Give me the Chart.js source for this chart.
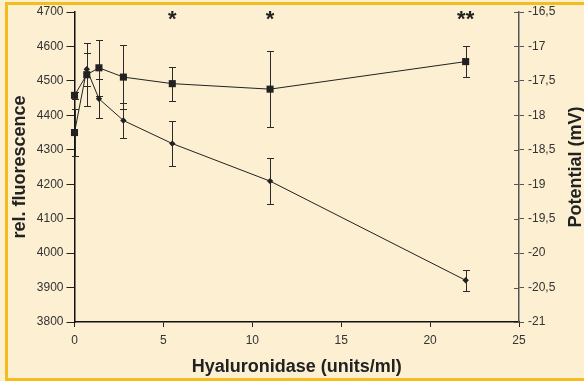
<!DOCTYPE html>
<html>
<head>
<meta charset="utf-8">
<script src="https://cdn.jsdelivr.net/npm/chart.js@4"></script>
<style>
  html, body { margin: 0; padding: 0; width: 584px; height: 381px; overflow: hidden; background: #fcefd2; }
  #frame { position: absolute; left: 5px; top: 2px; width: 700px; height: 373px; border: 3px solid #f4bc1c; }
  #wrap { position: absolute; left: 0; top: 0; width: 584px; height: 381px; }
</style>
</head>
<body>
<div id="frame"></div>
<div id="wrap"><canvas id="chart"></canvas></div>
<script>
// dados
const concentrations = [0, 0.69, 1.375, 2.75, 5.5, 11, 22]; // units/ml
const fluorescence = [4350, 4534, 4448, 4385, 4318, 4209, 3921];
const fluorescenceErr = [68, 48, 57, 52, 66, 66, 30];
const potential = [-17.71, -17.41, -17.31, -17.445, -17.54, -17.62, -17.22]; // mV
const potentialErr = [0.05, 0.46, 0.41, 0.47, 0.245, 0.55, 0.23];
const significance = ["", "", "", "", "*", "*", "**"];
const xTicks = [0, 5, 10, 15, 20, 25];

const FONT = "'Liberation Sans', Arial, sans-serif";
const INK = "#222";

// barras de erro desenhadas com as escalas do Chart.js
const errorBars = {
  id: "errorBars",
  beforeDatasetsDraw(chart) {
    const { ctx } = chart;
    const xs = chart.scales.x;
    ctx.save();
    ctx.strokeStyle = "#2a2a2a";
    ctx.lineWidth = 1;
    chart.data.datasets.forEach((ds) => {
      const ys = chart.scales[ds.yAxisID];
      ds.errors.forEach((e, i) => {
        if (!e) return;
        const p = ds.data[i];
        const px = Math.round(xs.getPixelForValue(p.x)) + 0.5;
        const top = Math.round(ys.getPixelForValue(p.y + e)) + 0.5;
        const bot = Math.round(ys.getPixelForValue(p.y - e)) + 0.5;
        ctx.beginPath();
        ctx.moveTo(px, top);
        ctx.lineTo(px, bot);
        ctx.moveTo(px - 3.5, top);
        ctx.lineTo(px + 3.5, top);
        ctx.moveTo(px - 3.5, bot);
        ctx.lineTo(px + 3.5, bot);
        ctx.stroke();
      });
    });
    ctx.restore();
  },
};

// asteriscos, ticks internos do eixo direito e título do eixo direito
const extras = {
  id: "extras",
  afterDraw(chart) {
    const { ctx, chartArea } = chart;
    const xs = chart.scales.x;
    const y2 = chart.scales.y2;
    ctx.save();

    ctx.fillStyle = INK;
    ctx.font = "bold 22px " + FONT;
    ctx.textAlign = "center";
    ctx.textBaseline = "top";
    significance.forEach((s, i) => {
      if (!s) return;
      ctx.fillText(s, xs.getPixelForValue(concentrations[i]), chartArea.top - 3);
    });

    ctx.strokeStyle = "#555";
    ctx.lineWidth = 1;
    y2.ticks.forEach((t) => {
      const py = Math.round(y2.getPixelForValue(t.value)) + 0.5;
      ctx.beginPath();
      ctx.moveTo(chartArea.right - 5, py);
      ctx.lineTo(chartArea.right, py);
      ctx.stroke();
    });

    ctx.translate(576, (chartArea.top + chartArea.bottom) / 2);
    ctx.rotate(-Math.PI / 2);
    ctx.font = "bold 18px " + FONT;
    ctx.textBaseline = "middle";
    ctx.fillText("Potential (mV)", 0, 0);
    ctx.restore();
  },
};

const ctx = document.getElementById("chart").getContext("2d");
new Chart(ctx, {
  type: "scatter",
  data: {
    datasets: [
      {
        label: "rel. fluorescence",
        yAxisID: "y",
        data: concentrations.map((x, i) => ({ x, y: fluorescence[i] })),
        errors: fluorescenceErr,
        showLine: true,
        clip: false,
        borderColor: INK,
        borderWidth: 1,
        backgroundColor: INK,
        pointStyle: concentrations.map((x, i) => (i === 0 ? "rect" : "rectRot")),
        pointRadius: concentrations.map((x, i) => (i === 0 ? 5 : 3.2)),
        pointBorderWidth: 0,
      },
      {
        label: "Potential (mV)",
        yAxisID: "y2",
        data: concentrations.map((x, i) => ({ x, y: potential[i] })),
        errors: potentialErr,
        showLine: true,
        clip: false,
        borderColor: INK,
        borderWidth: 1,
        backgroundColor: INK,
        pointStyle: "rect",
        pointRadius: 5,
        pointBorderWidth: 0,
      },
    ],
  },
  options: {
    responsive: true,
    maintainAspectRatio: false,
    animation: false,
    layout: { padding: { top: 12, left: 0, right: 0, bottom: 0 } },
    plugins: { legend: { display: false }, tooltip: { enabled: false } },
    scales: {
      x: {
        type: "linear",
        min: 0,
        max: 25,
        afterBuildTicks: (s) => { s.ticks = xTicks.map((v) => ({ value: v })); },
        ticks: { color: "#333", font: { family: FONT, size: 12 }, padding: 6, maxRotation: 0 },
        grid: { drawOnChartArea: false, tickLength: 5, color: "#222" },
        border: { color: "#111", width: 1.5 },
        title: {
          display: true,
          text: "Hyaluronidase (units/ml)",
          color: INK,
          font: { family: FONT, size: 18, weight: "bold" },
          padding: { top: 0, bottom: 3 },
        },
        afterFit: (s) => { s.height = 59; },
      },
      y: {
        position: "left",
        min: 3800,
        max: 4700,
        ticks: {
          stepSize: 100,
          color: "#333",
          font: { family: FONT, size: 12 },
          padding: 3,
          callback: (v) => String(v),
        },
        grid: { drawOnChartArea: false, tickLength: 8, color: "#222" },
        border: { color: "#111", width: 1.5 },
        title: {
          display: true,
          text: "rel. fluorescence",
          color: INK,
          font: { family: FONT, size: 18, weight: "bold" },
          padding: { top: 9, bottom: 0 },
        },
        afterFit: (s) => { s.width = 74.5; },
      },
      y2: {
        position: "right",
        min: -21,
        max: -16.5,
        ticks: {
          stepSize: 0.5,
          color: "#333",
          font: { family: FONT, size: 12 },
          padding: 4,
          callback: (v) => String(v).replace(".", ","),
        },
        grid: { drawOnChartArea: false, tickLength: 5, color: "#555" },
        border: { color: "#555", width: 1.5 },
        afterFit: (s) => { s.width = 65; },
      },
    },
  },
  plugins: [errorBars, extras],
});
</script>
</body>
</html>
